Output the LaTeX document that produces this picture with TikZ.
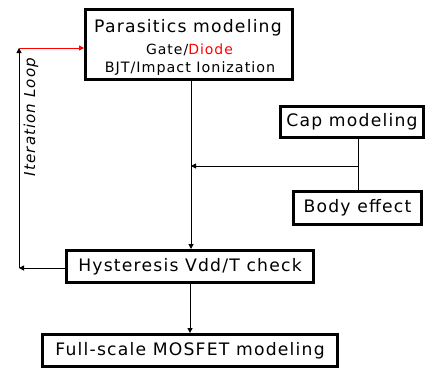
\documentclass[tikz,border=0pt]{standalone}
\usepackage{fontspec}
\newfontfamily\vf[LetterSpace=7]{DejaVu Sans}
\usetikzlibrary{arrows.meta}
\tikzset{
  box/.style={draw=black,line width=3pt,inner sep=0pt,font=\vf\fontsize{17.2}{20}\selectfont},
  conn/.style={line width=1pt,-{Triangle[length=5pt,width=5pt]}},
  plain/.style={line width=1pt},
}
\begin{document}
\begin{tikzpicture}[x=1pt,y=-1pt]
\useasboundingbox (0,0) rectangle (427,369);
% boxes
\node[box,minimum width=207pt,minimum height=70pt] (P) at (189,44.5) {};
\node[anchor=base,font=\vf\fontsize{17.2}{20}\selectfont] (t1) at (188,33) {Parasitics modeling};
\node[anchor=base,font=\vf\fontsize{14}{16}\selectfont] (t2) at (189.5,54) {Gate/\textcolor{red}{Diode}};
\node[anchor=base,font=\vf\fontsize{14.3}{16}\selectfont] (t3) at (190,72) {BJT/Impact Ionization};
\node[box,minimum width=143pt,minimum height=31pt] (C) at (352,122) {Cap modeling};
\node[box,minimum width=128pt,minimum height=33pt] (B) at (357.5,208) {Body effect};
\node[box,minimum width=247pt,minimum height=32pt] (H) at (190,266.5) {Hysteresis Vdd/T check};
\node[box,minimum width=295pt,minimum height=32pt] (F) at (190,350.5) {Full-scale MOSFET modeling};
% coordinates
\coordinate (m) at (191,0);
\coordinate (j) at (358,166);
\coordinate (lb) at (19,268);
\coordinate (lt) at (19,48);
% connectors
\draw[conn] (P.south -| m) -- (H.north -| m);
\draw[conn] (H) -- (F);
\draw[plain] (C.south -| j) -- (B.north -| j);
\draw[conn] (j) -- (j -| m);
\draw[conn] (H.west |- lb) -- (lb);
\draw[conn] (lb) -- (lt);
\draw[conn,red] (lt) -- (P.west |- lt);
\node[rotate=90,font=\vf\itshape\fontsize{15.1}{18}\selectfont] (il) at (31,117) {Iteration Loop};
\end{tikzpicture}
\end{document}
